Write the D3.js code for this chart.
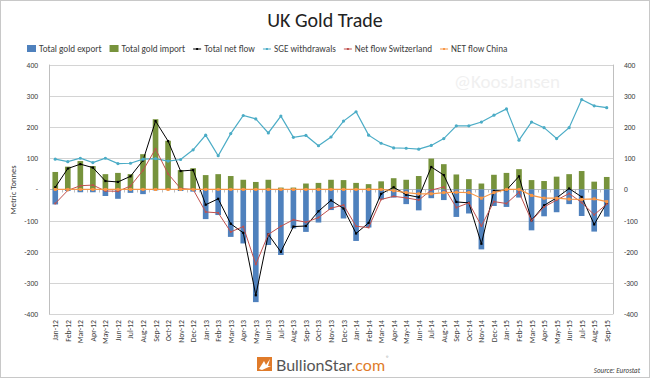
<!DOCTYPE html>
<html><head><meta charset="utf-8">
<script src="https://cdn.jsdelivr.net/npm/d3@7"></script>
<style>
html,body{margin:0;padding:0;background:#fff;}
svg{display:block;font-family:Carlito, Lato, "Open Sans", sans-serif;}
</style></head>
<body>
<svg id="chart" width="651" height="379"></svg>
<script>
const months = ["Jan-12","Feb-12","Mar-12","Apr-12","May-12","Jun-12","Jul-12","Aug-12","Sep-12","Oct-12","Nov-12","Dec-12",
"Jan-13","Feb-13","Mar-13","Apr-13","May-13","Jun-13","Jul-13","Aug-13","Sep-13","Oct-13","Nov-13","Dec-13",
"Jan-14","Feb-14","Mar-14","Apr-14","May-14","Jun-14","Jul-14","Aug-14","Sep-14","Oct-14","Nov-14","Dec-14",
"Jan-15","Feb-15","Mar-15","Apr-15","May-15","Jun-15","Jul-15","Aug-15","Sep-15"];
const totalExport = [-48,-5,-9,-9,-21,-30,-11,-15,-3,-2,-5,-7,
-95,-82,-152,-173,-361,-178,-210,-125,-136,-106,-66,-93,
-165,-122,-32,-26,-47,-67,-28,-34,-88,-77,-192,-53,
-56,-26,-131,-86,-73,-47,-85,-135,-87];
const totalImport = [56,73,91,75,49,53,49,113,225,156,62,68,
46,49,43,31,24,31,6,6,19,21,31,30,
21,17,26,36,31,43,99,81,48,33,19,47,
53,65,30,27,41,49,59,25,40];
const netFlow = [7,67,81,70,27,24,42,93,219,155,59,62,
-49,-30,-110,-139,-339,-144,-200,-119,-117,-70,-35,-61,
-141,-107,-14,7,-17,-25,72,46,-40,-43,-174,-5,
-2,42,-99,-51,-27,3,-24,-112,-43];
const sgeWithdrawals = [97,89,100,86,100,83,84,97,99,91,96,127,
174,108,179,237,226,181,235,167,173,140,168,219,
249,174,148,133,132,129,141,163,204,204,216,238,
258,158,216,198,163,198,288,268,262];
const netSwitzerland = [-45,-3,12,14,-5,-6,11,61,130,50,3,0,
-72,-75,-136,-119,-240,-144,-118,-97,-105,-90,-60,-50,
-118,-122,-32,-22,-27,-34,-2,8,-58,-43,-117,-39,
-45,-9,-100,-56,-34,-13,-42,-81,-47];
const netChina = [0,0,0,0,0,0,0,0,0,0,0,0,
0,0,0,0,0,0,0,0,0,0,0,0,
0,0,0,-4,-10,-14,-14,-10,-9,-10,-28,-10,
0,0,-19,-28,-28,-31,-32,-30,-39];
const yTicks = [-400,-300,-200,-100,0,100,200,300,400];
const legendLabels = ["Total gold export","Total gold import","Total net flow","SGE withdrawals","Net flow Switzerland","NET flow China"];

const svg = d3.select("#chart");
const W = 651, H = 379;
const plot = {left:49, right:613, top:64.6, bottom:314.3};

// outer border
svg.append("rect").attr("x",0.5).attr("y",0.5).attr("width",W-2).attr("height",H-2)
  .attr("fill","#fff").attr("stroke","#c8c8c8").attr("stroke-width",1);

const x = d3.scaleBand().domain(months).range([plot.left, plot.right]).paddingInner(0.55).paddingOuter(0.275);
const y = d3.scaleLinear().domain([-400,400]).range([plot.bottom, plot.top]);
const cx = d => x(d) + x.bandwidth()/2;

// title
svg.append("text").attr("x",325).attr("y",27).attr("text-anchor","middle")
  .attr("font-size",20).attr("fill","#222").text("UK Gold Trade");

// watermark
svg.append("text").attr("x",507).attr("y",88).attr("text-anchor","middle")
  .attr("font-size",19).attr("fill","#f0f0f0").text("@KoosJansen");

// gridlines
svg.append("g").selectAll("line").data(yTicks).join("line")
  .attr("x1",plot.left).attr("x2",plot.right)
  .attr("y1",d=>Math.round(y(d))+0.5).attr("y2",d=>Math.round(y(d))+0.5)
  .attr("stroke","#d4d4d4").attr("stroke-width",1);

// vertical axis lines
svg.append("line").attr("x1",plot.left+0.5).attr("x2",plot.left+0.5).attr("y1",plot.top).attr("y2",plot.bottom)
  .attr("stroke","#bfbfbf");
svg.append("line").attr("x1",plot.right+0.5).attr("x2",plot.right+0.5).attr("y1",plot.top).attr("y2",plot.bottom)
  .attr("stroke","#bfbfbf");

// y tick labels
const fmt = v => v === 0 ? "-" : String(v);
const yl = d3.axisLeft(y).tickValues(yTicks).tickSize(0).tickFormat(fmt);
const gl = svg.append("g").attr("transform",`translate(${plot.left-8},0)`).call(yl);
gl.select(".domain").remove();
gl.selectAll("text").attr("font-size",7.5).attr("fill","#404040").attr("font-family","Carlito, Lato, sans-serif");
const yr = d3.axisRight(y).tickValues(yTicks).tickSize(0).tickFormat(d=>String(d));
const gr = svg.append("g").attr("transform",`translate(${plot.right+8},0)`).call(yr);
gr.select(".domain").remove();
gr.selectAll("text").attr("font-size",7.5).attr("fill","#404040").attr("font-family","Carlito, Lato, sans-serif");

// y axis title
svg.append("text").attr("transform","translate(16,190) rotate(-90)").attr("text-anchor","middle")
  .attr("font-size",8.5).attr("fill","#404040").text("Metric Tonnes");

// zero axis with ticks
const y0 = Math.round(y(0))+0.5;
svg.append("line").attr("x1",plot.left).attr("x2",plot.right).attr("y1",y0).attr("y2",y0).attr("stroke","#bfbfbf");
const step = x.step();
svg.append("g").selectAll("line").data(d3.range(months.length+1)).join("line")
  .attr("x1",i=>Math.round(plot.left+i*step)+0.5).attr("x2",i=>Math.round(plot.left+i*step)+0.5)
  .attr("y1",y0).attr("y2",y0+3).attr("stroke","#bfbfbf");

// x labels
svg.append("g").selectAll("text").data(months).join("text")
  .attr("transform",d=>`translate(${cx(d)+3},320) rotate(-90)`)
  .attr("text-anchor","end").attr("font-size",7.8).attr("fill","#404040").text(d=>d);

// bars
const colExport = "#4f81bd", colImport = "#77933c";
svg.append("g").selectAll("rect").data(months).join("rect")
  .attr("x",d=>x(d)).attr("width",x.bandwidth())
  .attr("y",(d,i)=>y(totalImport[i])).attr("height",(d,i)=>y(0)-y(totalImport[i]))
  .attr("fill",colImport);
svg.append("g").selectAll("rect").data(months).join("rect")
  .attr("x",d=>x(d)).attr("width",x.bandwidth())
  .attr("y",y(0)).attr("height",(d,i)=>y(totalExport[i])-y(0))
  .attr("fill",colExport);

// lines
function drawLine(vals, color, marker, msize, width){
  const pts = months.map((m,i)=>[cx(m), y(vals[i])]);
  svg.append("path").attr("d",d3.line()(pts)).attr("fill","none").attr("stroke",color).attr("stroke-width",width);
  const g = svg.append("g");
  if(marker==="circle"){
    g.selectAll("circle").data(pts).join("circle").attr("cx",p=>p[0]).attr("cy",p=>p[1]).attr("r",msize/2).attr("fill",color);
  } else {
    g.selectAll("rect").data(pts).join("rect").attr("x",p=>p[0]-msize/2).attr("y",p=>p[1]-msize/2)
      .attr("width",msize).attr("height",msize).attr("fill",color);
  }
}
const colNet="#000000", colSGE="#4bacc6", colCH="#c0504d", colCN="#f79646";
drawLine(netFlow, colNet, "square", 2.2, 1);
drawLine(sgeWithdrawals, colSGE, "circle", 3.2, 1.2);
drawLine(netSwitzerland, colCH, "square", 1.8, 1);
drawLine(netChina, colCN, "square", 3, 1.2);

// legend
const legColors = [colExport, colImport, colNet, colSGE, colCH, colCN];
const legTypes = ["bar","bar","line","line","line","line"];
const leg = svg.append("g").attr("font-size",9.2).attr("fill","#404040");
let lx = 27;
const ly = 49;
legendLabels.forEach((lab,i)=>{
  if(legTypes[i]==="bar"){
    leg.append("rect").attr("x",lx).attr("y",ly-4).attr("width",9).attr("height",7).attr("fill",legColors[i]);
    lx += 12;
  } else {
    leg.append("line").attr("x1",lx).attr("x2",lx+8).attr("y1",ly).attr("y2",ly).attr("stroke",legColors[i]).attr("stroke-width",1);
    leg.append("rect").attr("x",lx+3).attr("y",ly-1).attr("width",2).attr("height",2).attr("fill",legColors[i]);
    lx += 11;
  }
  const t = leg.append("text").attr("x",lx).attr("y",ly+3).attr("fill","#404040").text(lab);
  lx += t.node().getComputedTextLength() + 8;
});

// logo
const logo = svg.append("g");
logo.append("rect").attr("x",257).attr("y",357).attr("width",15).attr("height",14).attr("fill","#e07b2a");
logo.append("path").attr("d","M259,369 L264,361 L266,365 L270,359 L268,366 L271,366 L262,370 Z").attr("fill","#fff");
const lt = logo.append("text").attr("x",276).attr("y",371).attr("font-size",16).attr("font-family","Lato, 'Open Sans', sans-serif");
lt.append("tspan").attr("fill","#555").text("BullionStar");
lt.append("tspan").attr("fill","#e07b2a").text(".com");
const lw = lt.node().getComputedTextLength();
logo.append("text").attr("x",276+lw+1).attr("y",360).attr("font-size",6.5).attr("fill","#777").text("®");

// source
svg.append("text").attr("x",640).attr("y",373).attr("text-anchor","end").attr("font-size",7)
  .attr("font-style","italic").attr("fill","#404040").text("Source: Eurostat");
</script>
</body></html>
